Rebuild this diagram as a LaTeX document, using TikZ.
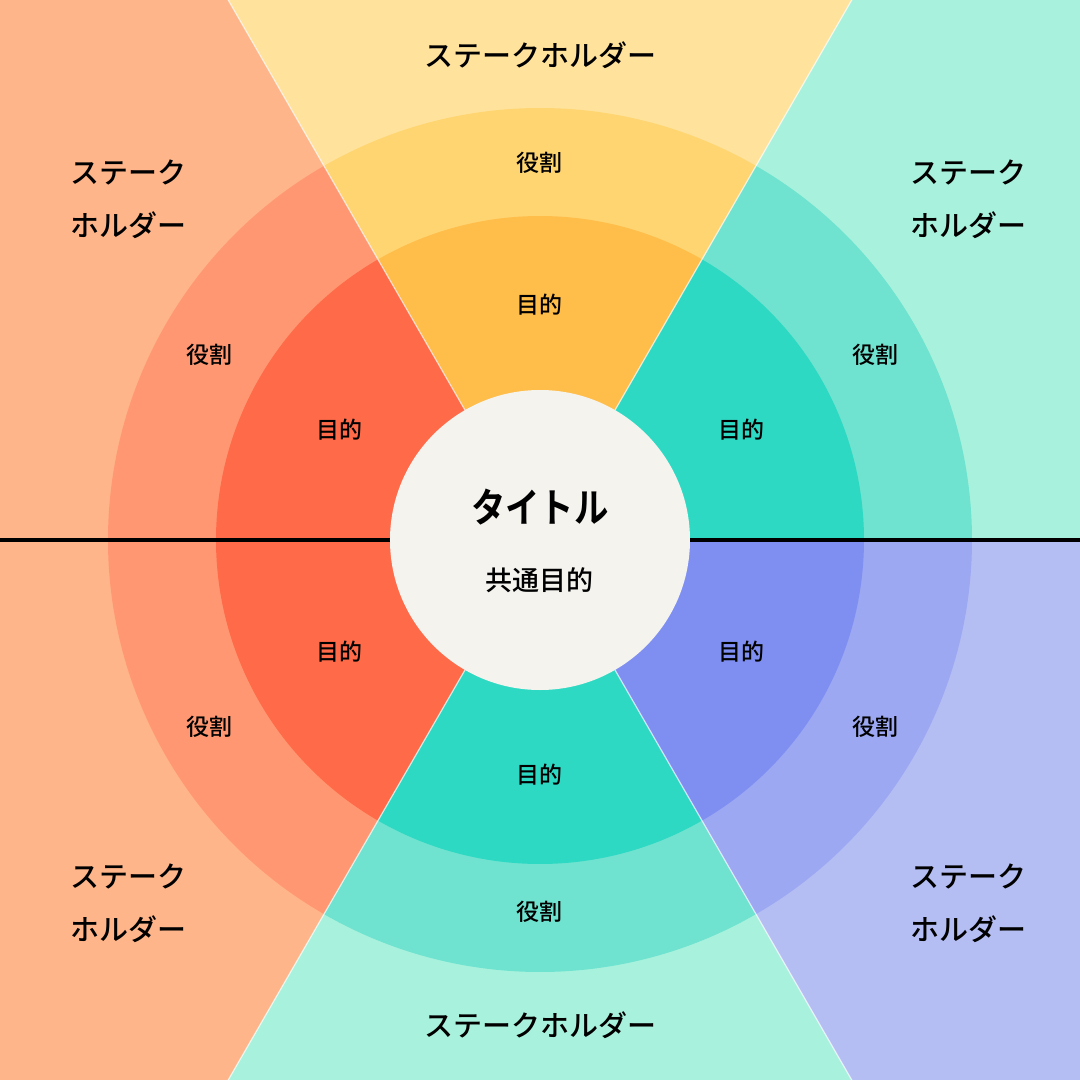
\documentclass[tikz,border=0pt]{standalone}
\usepackage{fontspec}
\setmainfont{Noto Sans CJK JP Medium}[BoldFont={Noto Sans CJK JP Bold}]
\definecolor{yBg}{HTML}{FFE39C}
\definecolor{yOut}{HTML}{FFD572}
\definecolor{yIn}{HTML}{FFBD4A}
\definecolor{oBg}{HTML}{FFB58A}
\definecolor{oOut}{HTML}{FF9872}
\definecolor{oIn}{HTML}{FF6A48}
\definecolor{tBg}{HTML}{A8F2DD}
\definecolor{tOut}{HTML}{6FE3CF}
\definecolor{tIn}{HTML}{2ED9C4}
\definecolor{bBg}{HTML}{B5BEF2}
\definecolor{bOut}{HTML}{9CA8F2}
\definecolor{bIn}{HTML}{7F8FF1}
\definecolor{ctrFill}{HTML}{F4F3EE}
\tikzset{
  lblsmall/.style={font=\fontsize{23}{28}\selectfont, inner sep=0pt, text=black},
  lblstake/.style={font=\fontsize{29}{53}\selectfont, inner sep=0pt, text=black},
  lblstaketwo/.style={font=\fontsize{29}{53}\selectfont, inner sep=0pt, text=black, align=left, anchor=west},
  sepline/.style={draw=white, line width=1.2pt, opacity=0.7},
  axisline/.style={draw=black, line width=4pt},
}
\newcommand{\mysector}[4]{% color, start, end, radius
  \fill[#1] (0,0) -- (#2:#4) arc[start angle=#2, end angle=#3, radius=#4] -- cycle;}
\begin{document}
\begin{tikzpicture}[x=1pt,y=1pt]
\useasboundingbox (-540,-540) rectangle (540,540);
\clip (-540,-540) rectangle (540,540);
% backgrounds
\mysector{tBg}{0}{60}{800}
\mysector{yBg}{60}{120}{800}
\mysector{oBg}{120}{180}{800}
\mysector{oBg}{180}{240}{800}
\mysector{tBg}{240}{300}{800}
\mysector{bBg}{300}{360}{800}
% outer ring
\mysector{tOut}{0}{60}{432}
\mysector{yOut}{60}{120}{432}
\mysector{oOut}{120}{180}{432}
\mysector{oOut}{180}{240}{432}
\mysector{tOut}{240}{300}{432}
\mysector{bOut}{300}{360}{432}
% inner ring
\mysector{tIn}{0}{60}{324}
\mysector{yIn}{60}{120}{324}
\mysector{oIn}{120}{180}{324}
\mysector{oIn}{180}{240}{324}
\mysector{tIn}{240}{300}{324}
\mysector{bIn}{300}{360}{324}
% separators
\coordinate (s60) at (60:800);
\coordinate (s120) at (120:800);
\coordinate (s240) at (240:800);
\coordinate (s300) at (300:800);
\coordinate (o) at (0,0);
\draw[sepline] (o) -- (s60);
\draw[sepline] (o) -- (s120);
\draw[sepline] (o) -- (s240);
\draw[sepline] (o) -- (s300);
% axis
\coordinate (axL) at (-540,0);
\coordinate (axR) at (540,0);
\draw[axisline] (axL) -- (axR);
% center
\node[circle, fill=ctrFill, minimum size=300pt, inner sep=0pt] (ctr) at (0,0) {};
\node[font=\fontsize{40}{48}\selectfont\bfseries, inner sep=0pt] (title) at (0,33) {\scalebox{0.86}[1]{タイトル}};
\node[font=\fontsize{27}{32}\selectfont, inner sep=0pt] (common) at (0,-40) {共通目的};
% top
\node[lblstake] (stT) at (1,485) {ステークホルダー};
\node[lblsmall] (rlT) at (0,377) {役割};
\node[lblsmall] (pT) at (0,235) {目的};
% bottom
\node[lblstake] (stB) at (1,-485) {ステークホルダー};
\node[lblsmall] (rlB) at (0,-372) {役割};
\node[lblsmall] (pB) at (0,-235) {目的};
% upper left
\node[lblstaketwo] (stUL) at (-470,341) {ステーク\\ホルダー};
\node[lblsmall] (rlUL) at (-330,185) {役割};
\node[lblsmall] (pUL) at (-200,110) {目的};
% upper right
\node[lblstaketwo] (stUR) at (370,341) {ステーク\\ホルダー};
\node[lblsmall] (rlUR) at (335,185) {役割};
\node[lblsmall] (pUR) at (202,110) {目的};
% lower left
\node[lblstaketwo] (stLL) at (-470,-363) {ステーク\\ホルダー};
\node[lblsmall] (rlLL) at (-330,-187) {役割};
\node[lblsmall] (pLL) at (-200,-112) {目的};
% lower right
\node[lblstaketwo] (stLR) at (370,-363) {ステーク\\ホルダー};
\node[lblsmall] (rlLR) at (335,-187) {役割};
\node[lblsmall] (pLR) at (202,-112) {目的};
\end{tikzpicture}
\end{document}
